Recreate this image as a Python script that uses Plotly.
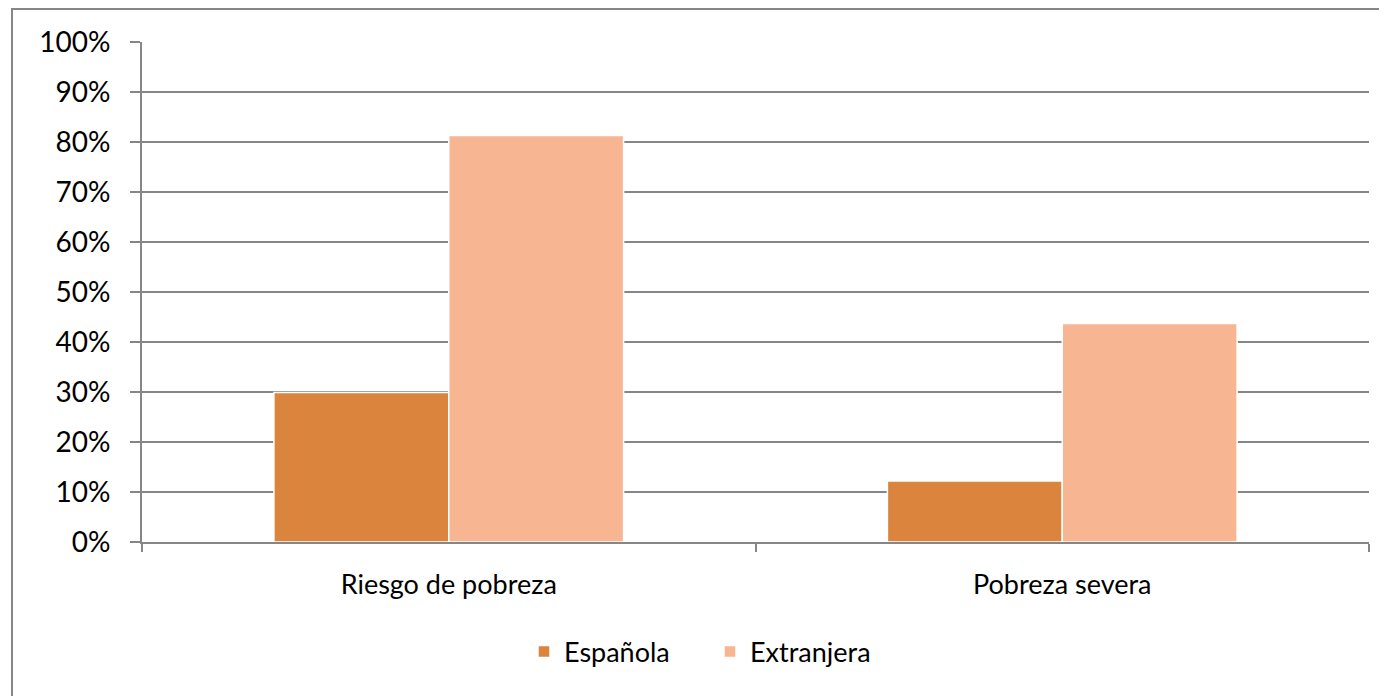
import plotly.graph_objects as go

categories = ["Riesgo de pobreza", "Pobreza severa"]
espanola = [29.9, 12.2]
extranjera = [81.3, 43.7]
series_names = ["Española", "Extranjera"]
tick_vals = [0, 10, 20, 30, 40, 50, 60, 70, 80, 90, 100]
tick_text = [f"{v}%" for v in tick_vals]

# page body has an 8px margin; figure coordinates are offset by it
W, H = 1379, 688
L, R, T, B = 134, 18, 34, 154
pw = W - L - R
ph = H - T - B

fig = go.Figure()
fig.add_trace(go.Bar(x=categories, y=espanola, name=series_names[0],
                     marker=dict(color="#DB843D", line=dict(color="white", width=1.5))))
fig.add_trace(go.Bar(x=categories, y=extranjera, name=series_names[1],
                     marker=dict(color="#F8B592", line=dict(color="white", width=1.5))))

font_family = "Lato, 'Open Sans', sans-serif"

def px_to_paper_x(px):
    return (px - L) / pw

def px_to_paper_y(py):
    return 1 - (py - T) / ph

fig.update_layout(
    width=W, height=H,
    margin=dict(l=L, r=R, t=T, b=B, autoexpand=False),
    paper_bgcolor="white", plot_bgcolor="white",
    barmode="group", bargap=0.43, bargroupgap=0.0,
    font=dict(family=font_family, size=26, color="black"),
    showlegend=True,
    legend=dict(orientation="h", x=px_to_paper_x(702), y=px_to_paper_y(644), xanchor="center", yanchor="middle",
                font=dict(size=27, family=font_family), itemwidth=30, traceorder="normal",
                entrywidth=141, entrywidthmode="pixels"),
    xaxis=dict(showline=True, linecolor="#868686", linewidth=2, ticks="outside",
               tickson="boundaries", ticklen=8, tickcolor="#868686", tickwidth=2,
               showgrid=False, tickfont=dict(size=27, family=font_family), ticklabelstandoff=18),
    yaxis=dict(range=[0, 100], tickvals=tick_vals, ticktext=tick_text,
               showline=True, linecolor="#868686", linewidth=2, ticks="outside",
               ticklen=10, tickcolor="#868686", tickwidth=2,
               showgrid=True, gridcolor="#868686", gridwidth=2, zeroline=False,
               tickfont=dict(size=28, family=font_family), ticklabelstandoff=14),
    shapes=[dict(type="rect", xref="paper", yref="paper",
                 x0=px_to_paper_x(4), x1=px_to_paper_x(1395),
                 y0=px_to_paper_y(710), y1=px_to_paper_y(1),
                 line=dict(color="#868686", width=2), fillcolor="rgba(0,0,0,0)", layer="below")],
)

fig.write_html("out.html")
